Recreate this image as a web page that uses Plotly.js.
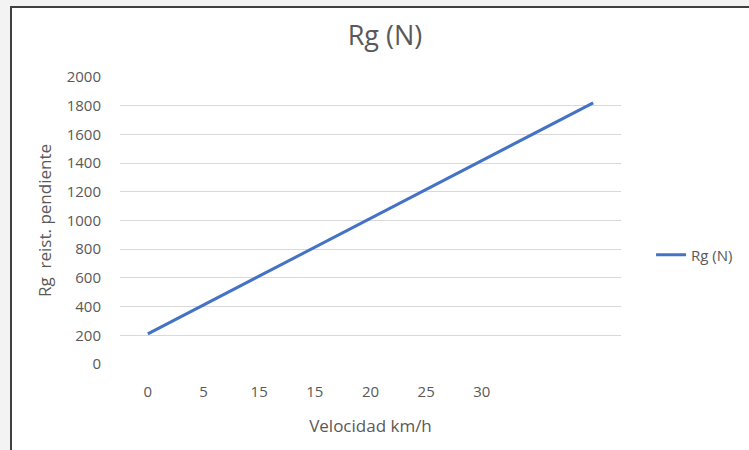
<!DOCTYPE html>
<html>
<head>
<meta charset="utf-8">
<script src="https://cdn.plot.ly/plotly-3.0.1.min.js"></script>
<style>
html,body{margin:0;padding:0;background:#f3f3f3;}
#wrap{position:absolute;left:0;top:0;width:749px;height:450px;}
#frame{position:absolute;left:10px;top:6px;width:739px;height:442px;border-left:2px solid #404040;border-top:2px solid #404040;border-bottom:1px solid #d0d0d0;background:#fff;}
#chart{position:absolute;left:0;top:0;width:749px;height:450px;}
</style>
</head>
<body>
<div id="wrap"><div id="frame"></div><div id="chart"></div></div>
<script>
const categoryIndex = [0, 1, 2, 3, 4, 5, 6, 7, 8];
const tickLabels = ["0", "5", "15", "15", "20", "25", "30", "", ""];
const rgValues = [210, 411, 612, 814, 1015, 1216, 1418, 1619, 1820];
const seriesName = "Rg (N)";

const font = "Open Sans, Noto Sans, sans-serif";
const grey = "#595959";

Plotly.newPlot("chart", [{
  x: categoryIndex,
  y: rgValues,
  type: "scatter",
  mode: "lines",
  name: seriesName,
  line: {color: "#4472C4", width: 3}
}], {
  width: 749, height: 450,
  paper_bgcolor: "rgba(0,0,0,0)",
  plot_bgcolor: "rgba(0,0,0,0)",
  margin: {l: 120, r: 128, t: 77, b: 86, autoexpand: false},
  title: {text: "Rg (N)", x: 0.514, xref: "container", y: 0.92, yref: "container", yanchor: "middle",
          font: {family: font, size: 27, color: grey}},
  xaxis: {
    range: [-0.5, 8.5],
    tickmode: "array", tickvals: categoryIndex, ticktext: tickLabels,
    showgrid: false, zeroline: false, showline: false, ticks: "",
    tickfont: {family: font, size: 15, color: grey},
    ticklabelstandoff: 17,
    title: {text: "Velocidad km/h", font: {family: font, size: 17, color: grey}, standoff: 20}
  },
  yaxis: {
    range: [0, 2000], dtick: 200,
    showgrid: true, gridcolor: "#d9d9d9", gridwidth: 1,
    zeroline: false, showline: false, ticks: "",
    tickfont: {family: font, size: 15, color: grey},
    ticklabelstandoff: 18,
    title: {text: "Rg  reist. pendiente", font: {family: font, size: 17, color: grey}, standoff: 10}
  },
  showlegend: true,
  legend: {x: 1.06, xanchor: "left", y: 0.38, yanchor: "middle",
           font: {family: font, size: 15, color: grey}, bgcolor: "rgba(0,0,0,0)"}
}, {displayModeBar: false, staticPlot: true});
</script>
</body>
</html>
